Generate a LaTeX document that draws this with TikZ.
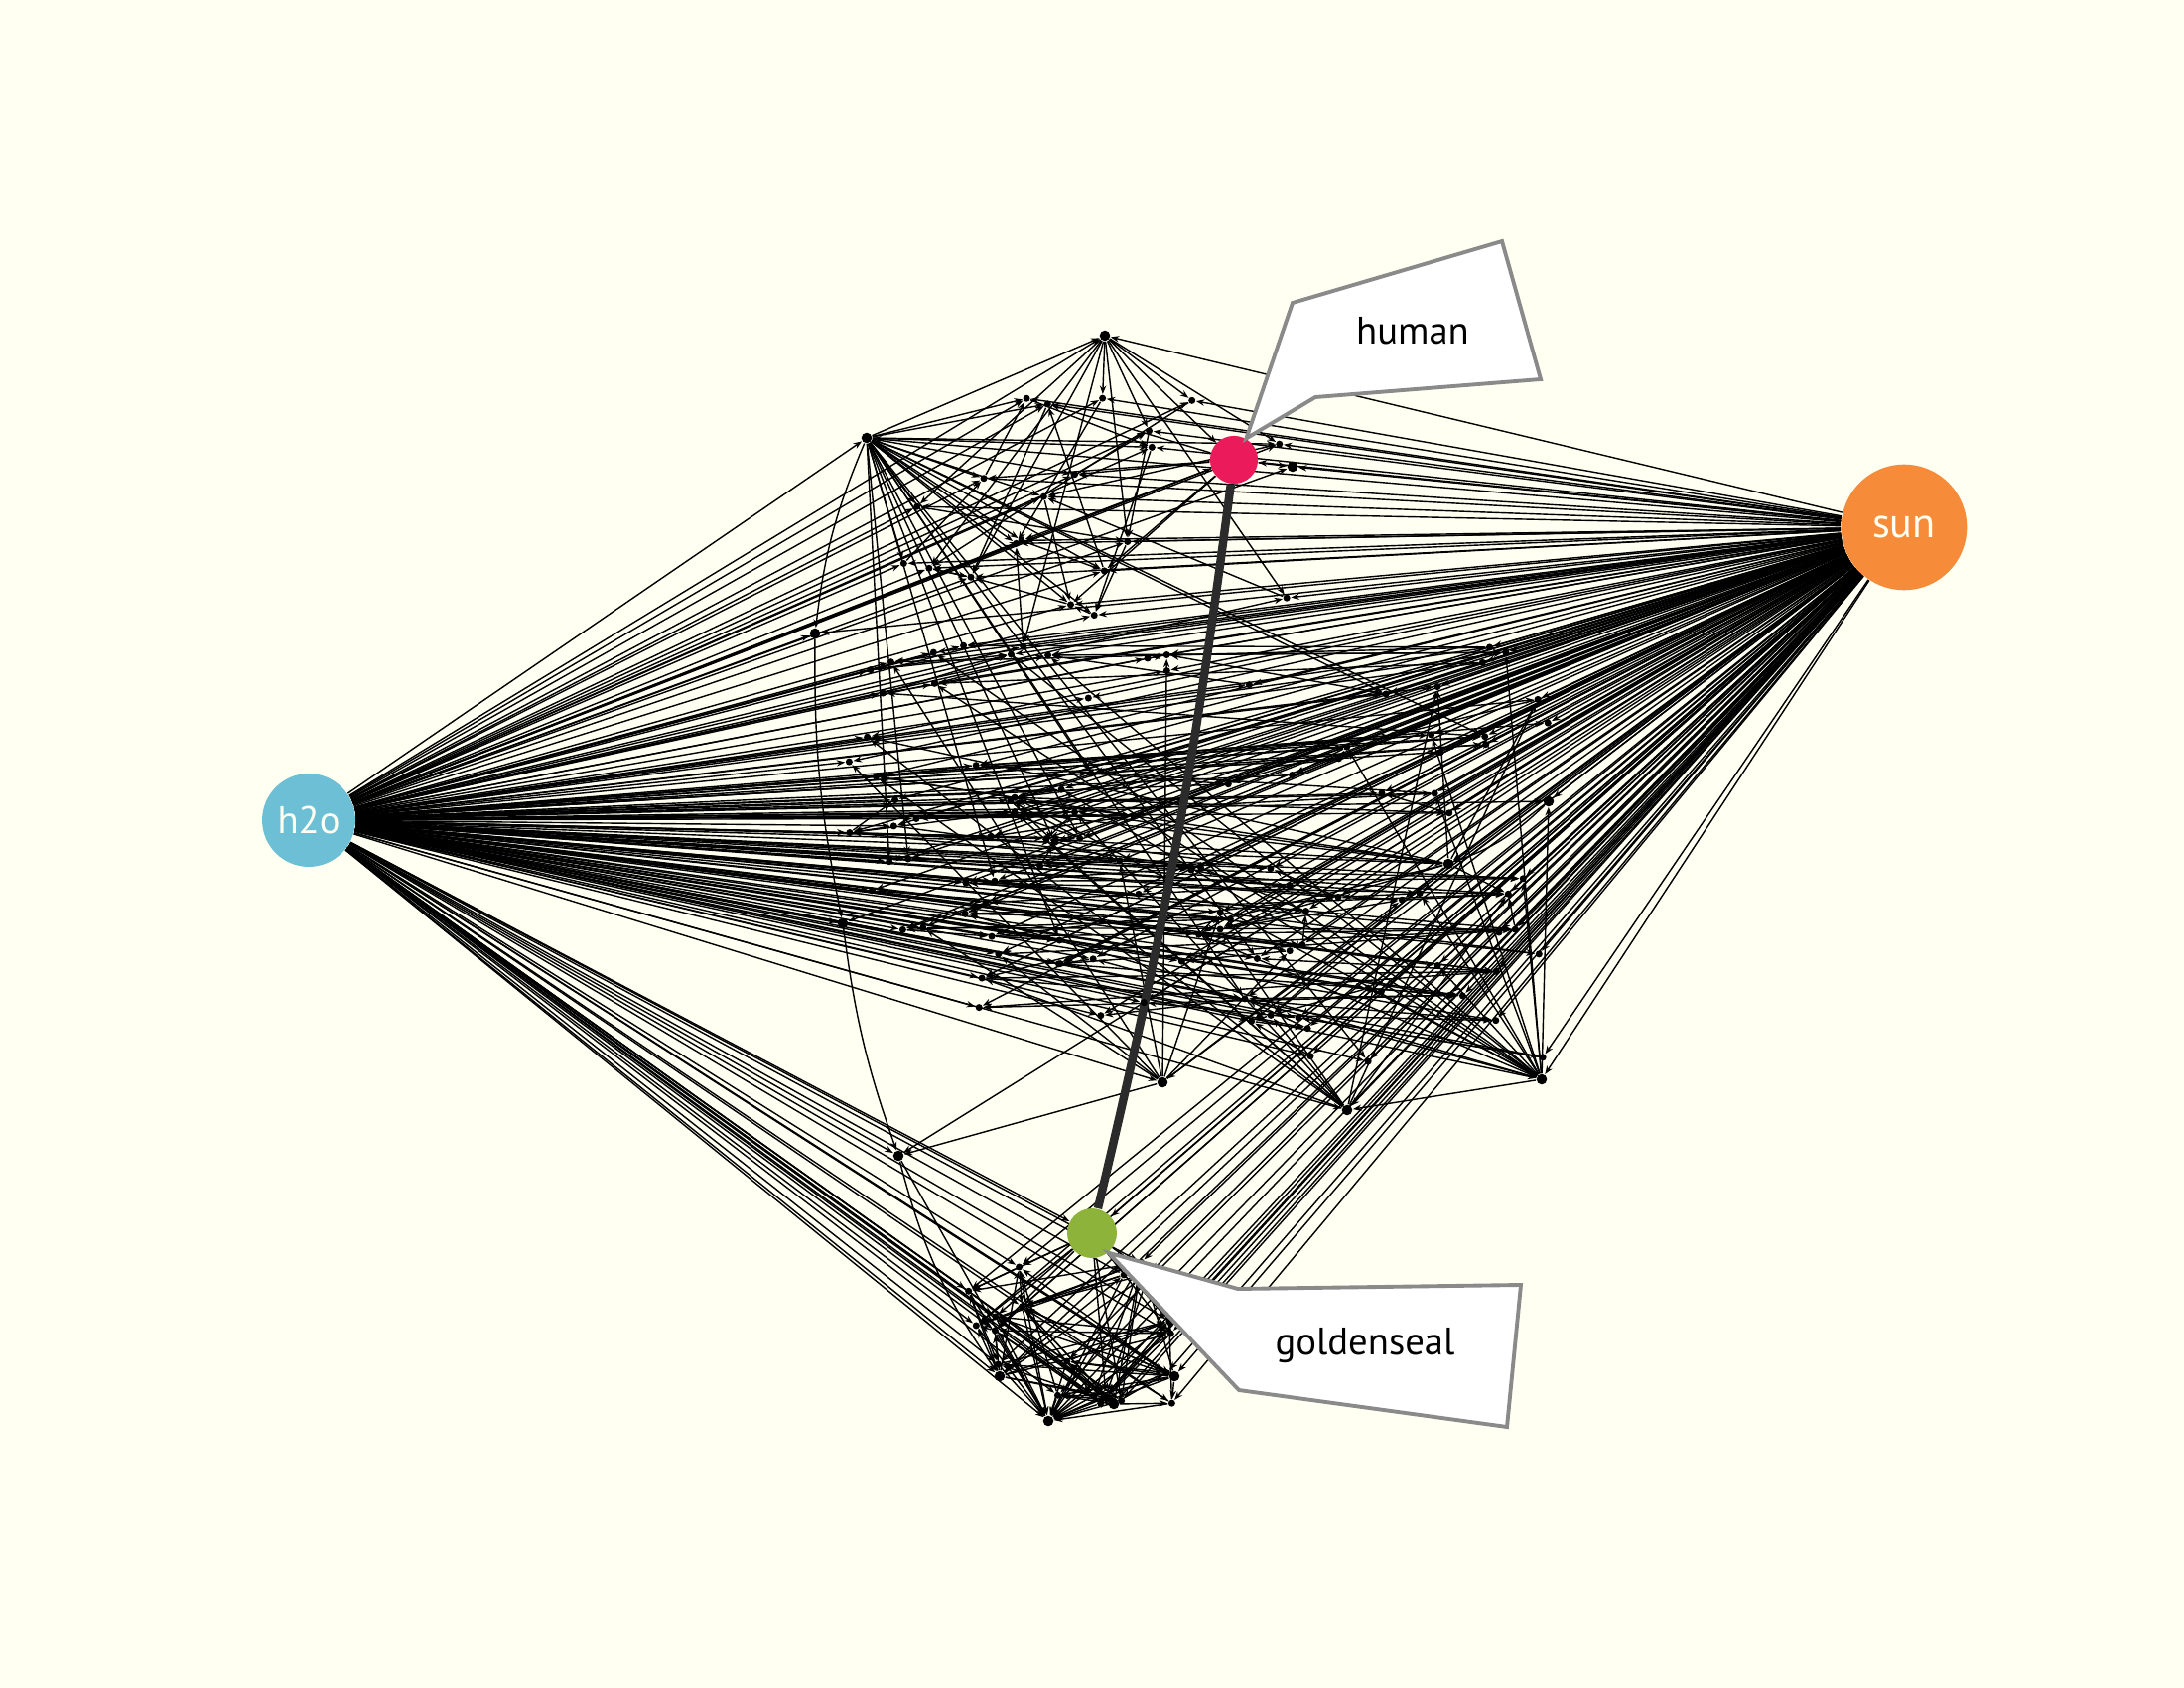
\documentclass[tikz,border=0pt]{standalone}
\usepackage{fontspec}
\setmainfont{PT Sans}
\usetikzlibrary{arrows.meta}
\definecolor{bgcream}{HTML}{FFFFF2}
\definecolor{h2oblue}{HTML}{6CBFD4}
\definecolor{sunorange}{HTML}{F68B3A}
\definecolor{humanpink}{HTML}{EA1A5B}
\definecolor{sealgreen}{HTML}{8DB33B}
\definecolor{calloutgray}{HTML}{8A8A8A}
\definecolor{thickline}{HTML}{2B2B2B}
\pgfdeclarelayer{back}
\pgfdeclarelayer{links}
\pgfsetlayers{back,links,main}
\tikzset{
  dot/.style={circle, fill=black, inner sep=0pt, minimum size=2pt},
  hub/.style={circle, fill=black, inner sep=0pt, minimum size=3pt},
  link/.style={-{Stealth[length=2.4pt,width=1.8pt]}, line width=0.4pt, black},
  bignode/.style={circle, inner sep=0pt, text=bgcream, font=\fontsize{11}{13}\selectfont},
  callout/.style={draw=calloutgray, line width=1.1pt, fill=white, line join=miter},
}

\begin{document}
\begin{tikzpicture}[x=0.01cm, y=-0.01cm]
			% background and page size
			\begin{pgfonlayer}{back}
			\fill[bgcream] (0,0) rectangle (2200,1700);
			\end{pgfonlayer}
			\useasboundingbox (0,0) rectangle (2200,1700);
			
			% draw big species
			\node[bignode, fill=h2oblue, minimum size=26.7pt] (h2o) at (311,826) {h2o};
			\node[bignode, fill=sunorange, minimum size=36pt, font=\fontsize{12}{14}\selectfont] (sun) at (1918,531) {sun};
			\node[circle, inner sep=0pt, fill=humanpink, minimum size=13.7pt] (human) at (1243,463) {};
			\node[circle, inner sep=0pt, fill=sealgreen, minimum size=14.2pt] (goldenseal) at (1100,1242) {};
			
			% draw hubs
			\node[hub] (hubA) at (873,441) {};
			\node[hub] (hubB) at (1113,338) {};
			\node[hub] (hubC) at (1553,1087) {};
			\node[hub] (hubD) at (1056,1431) {};
			\node[hub] (hubE) at (905,1164) {};
			\node[hub] (hubF) at (1122,1414) {};
			\node[hub] (hubG) at (1007,1386) {};
			\node[hub] (hubH) at (1183,1386) {};
			\node[hub] (hubI) at (849,930) {};
			\node[hub] (hubJ) at (821,638) {};
			\node[hub] (hubK) at (1560,807) {};
			\node[hub] (hubL) at (1357,1118) {};
			\node[hub] (hubM) at (1171,1090) {};
			\node[hub] (hubN) at (1302,470) {};
			\node[hub] (hubO) at (1459,870) {};
			
			% draw small species
			\pgfmathsetseed{4242}
			\foreach \i in {1,...,22}{
				\pgfmathsetmacro{\px}{900+440*rnd}
				\pgfmathsetmacro{\py}{400+260*rnd}
				\node[dot] (t\i) at (\px,\py) {};
			}
			\foreach \i in {1,...,110}{
				\pgfmathsetmacro{\px}{855+705*rnd}
				\pgfmathsetmacro{\py}{650+rnd*(350+(\px-855)/7.05)}
				\expandafter\xdef\csname my\i\endcsname{\py}
				\node[dot] (m\i) at (\px,\py) {};
			}
			\foreach \i in {1,...,20}{
				\pgfmathsetmacro{\px}{965+230*rnd}
				\pgfmathsetmacro{\py}{1270+150*rnd}
				\node[dot] (g\i) at (\px,\py) {};
			}
			
			\begin{pgfonlayer}{links}
			% links from h2o and sun
			\foreach \i in {1,...,22}{
				\draw[link] (h2o) -- (t\i);
				\draw[link] (sun) -- (t\i);
			}
			\foreach \i in {1,...,110}{
				\draw[link] (h2o) -- (m\i);
				\draw[link] (sun) -- (m\i);
			}
			\foreach \i in {1,...,20}{
				\draw[link] (h2o) -- (g\i);
				\draw[link] (sun) -- (g\i);
			}
			\foreach \h in {A,B,C,D,E,F,G,H,I,J,K,L,M,N,O}{
				\draw[link] (h2o) -- (hub\h);
				\draw[link] (sun) -- (hub\h);
			}
			\draw[link] (h2o) -- (human);
			\draw[link] (sun) -- (human);
			\draw[link] (h2o) -- (goldenseal);
			\draw[link] (sun) -- (goldenseal);
			
			% links between small species
			\foreach \i in {1,...,14}{
				\draw[link] (hubA) -- (t\i);
			}
			\foreach \i in {1,...,12}{
				\draw[link] (hubA) -- (m\i);
			}
			\foreach \i in {13,...,22}{
				\draw[link] (hubB) -- (t\i);
			}
			\foreach \i in {40,...,56}{
				\draw[link] (hubC) -- (m\i);
			}
			\foreach \i in {1,...,20}{
				\pgfmathtruncatemacro{\j}{mod(\i+random(1,18),20)+1}
				\pgfmathtruncatemacro{\k}{mod(\i+random(1,18),20)+1}
				\draw[link] (g\i) -- (g\j);
				\draw[link] (g\i) -- (g\k);
				\draw[link] (g\i) -- (hubD);
			}
			\foreach \i in {1,...,10}{
				\draw[link] (goldenseal) -- (g\i);
				\draw[link] (hubG) -- (g\i);
			}
			\foreach \i in {11,...,20}{
				\draw[link] (hubF) -- (g\i);
				\draw[link] (hubH) -- (g\i);
			}
			% mostly level links in the middle
			\foreach \i in {1,...,110}{
				\foreach \c in {1,...,4}{
					\pgfmathtruncatemacro{\j}{mod(\i+random(1,100),110)+1}
					\pgfmathsetmacro{\dy}{abs(\csname my\i\endcsname-\csname my\j\endcsname)}
					\ifdim\dy pt<45pt \draw[link] (m\i) -- (m\j); \fi
				}
			}
			\foreach \i in {1,...,22}{
				\pgfmathtruncatemacro{\j}{mod(\i+random(1,20),22)+1}
				\draw[link] (t\i) -- (t\j);
			}
			\foreach \i in {60,...,70}{
				\draw[link] (hubL) -- (m\i);
				\draw[link] (hubO) -- (m\i);
			}
			\foreach \i in {20,...,28}{
				\draw[link] (hubM) -- (m\i);
			}
			\foreach \i in {1,3,...,11}{
				\draw[link] (human) -- (t\i);
			}
			\draw[link] (hubA) -- (hubB);
			\draw[link] (hubB) -- (human);
			\draw[link] (human) -- (hubN);
			\draw[link] (hubC) -- (hubK);
			\draw[link] (hubA) to[bend right=8] (hubJ);
			\draw[link] (hubJ) to[bend right=6] (hubI);
			\draw[link] (hubI) to[bend right=6] (hubE);
			\draw[link] (hubE) to[bend right=10] (hubG);
			\draw[link] (hubE) -- (hubD);
			\draw[link] (hubK) to[bend left=12] (hubO);
			\draw[link] (hubC) -- (hubL);
			\draw[link] (hubM) -- (hubE);
			
			% thick link
			\draw[line width=2.4pt, thickline] (human) to[bend left=3] (goldenseal);
			\end{pgfonlayer}
			
			% draw callouts
			\draw[callout] (human.60) -- (1302,305) -- (1513,243) -- (1552,382) -- (1325,400) -- cycle;
			\node[font=\fontsize{11}{13}\selectfont] (humanlabel) at (1423,333) {human};
			\draw[callout] (goldenseal.-50) -- (1247,1298) -- (1532,1294) -- (1518,1437) -- (1248,1400) -- cycle;
			\node[font=\fontsize{11}{13}\selectfont] (goldensealabel) at (1375,1355) {goldenseal};
		\end{tikzpicture}
\end{document}
